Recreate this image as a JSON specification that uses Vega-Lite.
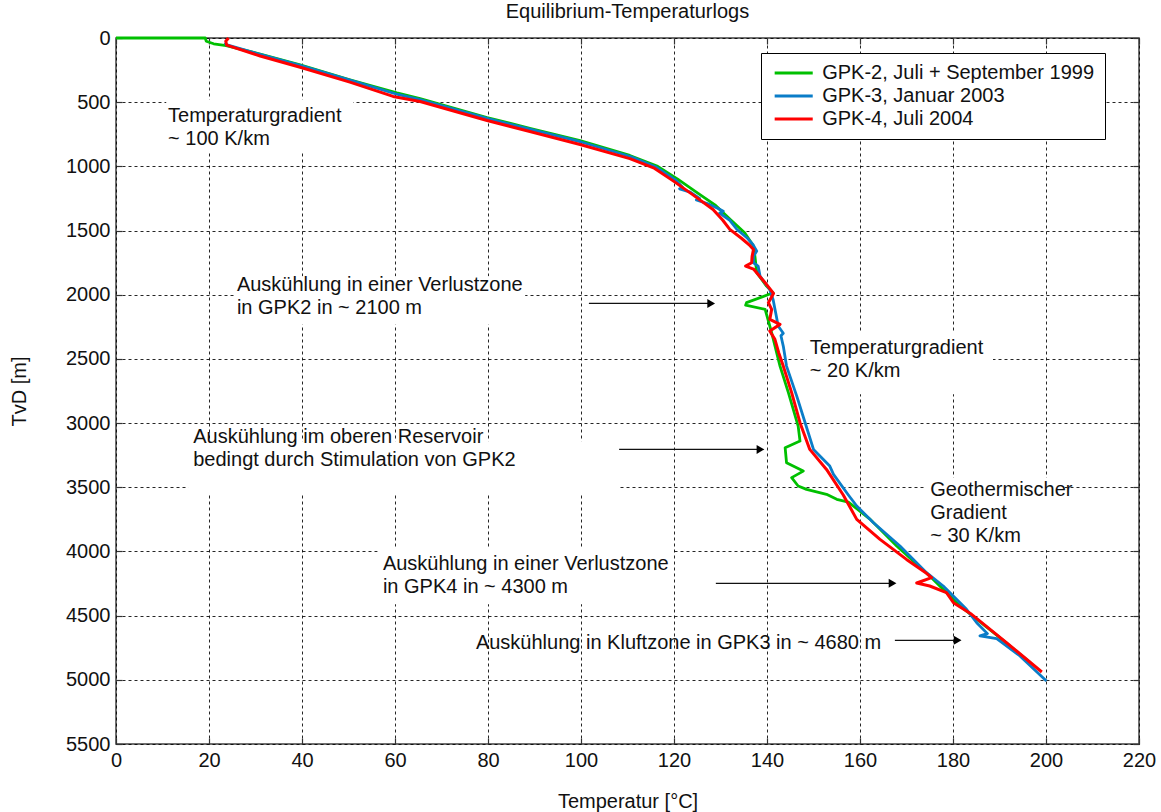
{
  "$schema": "https://vega.github.io/schema/vega-lite/v6.json",
  "width": 1023,
  "height": 706,
  "autosize": {"type": "none"},
  "padding": {"left": 116, "top": 38, "right": 22, "bottom": 68},
  "background": "white",
  "title": {"text": "Equilibrium-Temperaturlogs", "fontSize": 20, "fontWeight": "normal", "font": "Liberation Sans", "color": "#111111", "baseline": "alphabetic", "offset": 11, "dy": 21, "anchor": "middle", "frame": "group"},
  "config": {
    "view": {"stroke": "#404040", "strokeWidth": 1.5},
    "font": "Liberation Sans",
    "axis": {"labelFont": "Liberation Sans", "labelFontSize": 20, "labelColor": "#111111", "titleFont": "Liberation Sans", "titleFontSize": 20, "titleFontWeight": "normal", "titleColor": "#111111", "grid": true, "gridColor": "#000000", "gridDash": [3, 3], "gridWidth": 1, "gridOpacity": 0.85, "domain": false, "ticks": true, "tickSize": -6, "tickColor": "#333333", "tickWidth": 1.2, "labelPadding": 12}
  },
  "resolve": {"axis": {"x": "independent", "y": "independent"}},
  "datasets": {
    "boxes": [
      {"t0": 10.8, "t1": 51.0, "d0": 479, "d1": 892},
      {"t0": 25.6, "t1": 88.0, "d0": 1857, "d1": 2231},
      {"t0": 148.6, "t1": 188.6, "d0": 2293, "d1": 2776},
      {"t0": 15.5, "t1": 108.0, "d0": 3142, "d1": 3555},
      {"t0": 174.0, "t1": 204.0, "d0": 3423, "d1": 3991},
      {"t0": 56.3, "t1": 119.6, "d0": 3968, "d1": 4412}
    ],
    "logs": [
      {"well": "GPK-2, Juli + September 1999", "T": 0, "D": 0},
      {"well": "GPK-2, Juli + September 1999", "T": 19.2, "D": 0},
      {"well": "GPK-2, Juli + September 1999", "T": 19.4, "D": 25},
      {"well": "GPK-2, Juli + September 1999", "T": 21, "D": 45},
      {"well": "GPK-2, Juli + September 1999", "T": 23.7, "D": 60},
      {"well": "GPK-2, Juli + September 1999", "T": 31, "D": 125},
      {"well": "GPK-2, Juli + September 1999", "T": 39.6, "D": 210},
      {"well": "GPK-2, Juli + September 1999", "T": 50.3, "D": 325},
      {"well": "GPK-2, Juli + September 1999", "T": 60.4, "D": 428},
      {"well": "GPK-2, Juli + September 1999", "T": 65.4, "D": 472},
      {"well": "GPK-2, Juli + September 1999", "T": 79.8, "D": 620},
      {"well": "GPK-2, Juli + September 1999", "T": 89, "D": 703},
      {"well": "GPK-2, Juli + September 1999", "T": 99.8, "D": 800},
      {"well": "GPK-2, Juli + September 1999", "T": 110.5, "D": 915},
      {"well": "GPK-2, Juli + September 1999", "T": 116.5, "D": 1000},
      {"well": "GPK-2, Juli + September 1999", "T": 120.8, "D": 1100},
      {"well": "GPK-2, Juli + September 1999", "T": 124.8, "D": 1200},
      {"well": "GPK-2, Juli + September 1999", "T": 128.8, "D": 1300},
      {"well": "GPK-2, Juli + September 1999", "T": 132, "D": 1410},
      {"well": "GPK-2, Juli + September 1999", "T": 135.2, "D": 1517},
      {"well": "GPK-2, Juli + September 1999", "T": 137.1, "D": 1621},
      {"well": "GPK-2, Juli + September 1999", "T": 137.4, "D": 1699},
      {"well": "GPK-2, Juli + September 1999", "T": 137.8, "D": 1829},
      {"well": "GPK-2, Juli + September 1999", "T": 139.9, "D": 1933},
      {"well": "GPK-2, Juli + September 1999", "T": 141.3, "D": 1985},
      {"well": "GPK-2, Juli + September 1999", "T": 135.6, "D": 2062},
      {"well": "GPK-2, Juli + September 1999", "T": 135.4, "D": 2081},
      {"well": "GPK-2, Juli + September 1999", "T": 139.6, "D": 2114},
      {"well": "GPK-2, Juli + September 1999", "T": 141, "D": 2296},
      {"well": "GPK-2, Juli + September 1999", "T": 142.8, "D": 2556},
      {"well": "GPK-2, Juli + September 1999", "T": 144.6, "D": 2763},
      {"well": "GPK-2, Juli + September 1999", "T": 146.7, "D": 3023},
      {"well": "GPK-2, Juli + September 1999", "T": 147.1, "D": 3140},
      {"well": "GPK-2, Juli + September 1999", "T": 143.9, "D": 3192},
      {"well": "GPK-2, Juli + September 1999", "T": 144.2, "D": 3308},
      {"well": "GPK-2, Juli + September 1999", "T": 147.8, "D": 3374},
      {"well": "GPK-2, Juli + September 1999", "T": 145.3, "D": 3425},
      {"well": "GPK-2, Juli + September 1999", "T": 146.7, "D": 3490},
      {"well": "GPK-2, Juli + September 1999", "T": 148.5, "D": 3516},
      {"well": "GPK-2, Juli + September 1999", "T": 152.8, "D": 3555},
      {"well": "GPK-2, Juli + September 1999", "T": 155, "D": 3594},
      {"well": "GPK-2, Juli + September 1999", "T": 157.5, "D": 3615},
      {"well": "GPK-2, Juli + September 1999", "T": 162.2, "D": 3750},
      {"well": "GPK-2, Juli + September 1999", "T": 167.9, "D": 3958},
      {"well": "GPK-2, Juli + September 1999", "T": 175, "D": 4191},
      {"well": "GPK-2, Juli + September 1999", "T": 181.5, "D": 4425},
      {"well": "GPK-2, Juli + September 1999", "T": 189, "D": 4640},
      {"well": "GPK-2, Juli + September 1999", "T": 196.6, "D": 4866},
      {"well": "GPK-3, Januar 2003", "T": 23.4, "D": 37},
      {"well": "GPK-3, Januar 2003", "T": 23.7, "D": 51},
      {"well": "GPK-3, Januar 2003", "T": 31.2, "D": 130},
      {"well": "GPK-3, Januar 2003", "T": 39.8, "D": 215},
      {"well": "GPK-3, Januar 2003", "T": 50.5, "D": 330},
      {"well": "GPK-3, Januar 2003", "T": 60.6, "D": 440},
      {"well": "GPK-3, Januar 2003", "T": 65.6, "D": 482},
      {"well": "GPK-3, Januar 2003", "T": 80, "D": 628},
      {"well": "GPK-3, Januar 2003", "T": 89.2, "D": 712},
      {"well": "GPK-3, Januar 2003", "T": 100, "D": 810},
      {"well": "GPK-3, Januar 2003", "T": 110.8, "D": 925},
      {"well": "GPK-3, Januar 2003", "T": 116, "D": 1003},
      {"well": "GPK-3, Januar 2003", "T": 120.3, "D": 1105},
      {"well": "GPK-3, Januar 2003", "T": 121.8, "D": 1160},
      {"well": "GPK-3, Januar 2003", "T": 121.2, "D": 1175},
      {"well": "GPK-3, Januar 2003", "T": 123.5, "D": 1200},
      {"well": "GPK-3, Januar 2003", "T": 125.5, "D": 1250},
      {"well": "GPK-3, Januar 2003", "T": 124.8, "D": 1262},
      {"well": "GPK-3, Januar 2003", "T": 127.2, "D": 1290},
      {"well": "GPK-3, Januar 2003", "T": 129.6, "D": 1330},
      {"well": "GPK-3, Januar 2003", "T": 130.6, "D": 1349},
      {"well": "GPK-3, Januar 2003", "T": 129.8, "D": 1365},
      {"well": "GPK-3, Januar 2003", "T": 132, "D": 1420},
      {"well": "GPK-3, Januar 2003", "T": 133.5, "D": 1490},
      {"well": "GPK-3, Januar 2003", "T": 135.8, "D": 1560},
      {"well": "GPK-3, Januar 2003", "T": 137, "D": 1610},
      {"well": "GPK-3, Januar 2003", "T": 137.8, "D": 1660},
      {"well": "GPK-3, Januar 2003", "T": 137.1, "D": 1700},
      {"well": "GPK-3, Januar 2003", "T": 137.1, "D": 1751},
      {"well": "GPK-3, Januar 2003", "T": 138.1, "D": 1777},
      {"well": "GPK-3, Januar 2003", "T": 138.5, "D": 1855},
      {"well": "GPK-3, Januar 2003", "T": 140.6, "D": 1959},
      {"well": "GPK-3, Januar 2003", "T": 141.3, "D": 2036},
      {"well": "GPK-3, Januar 2003", "T": 142, "D": 2166},
      {"well": "GPK-3, Januar 2003", "T": 142.4, "D": 2244},
      {"well": "GPK-3, Januar 2003", "T": 143.5, "D": 2300},
      {"well": "GPK-3, Januar 2003", "T": 143, "D": 2320},
      {"well": "GPK-3, Januar 2003", "T": 143.5, "D": 2400},
      {"well": "GPK-3, Januar 2003", "T": 144.2, "D": 2556},
      {"well": "GPK-3, Januar 2003", "T": 146.4, "D": 2790},
      {"well": "GPK-3, Januar 2003", "T": 148.2, "D": 2997},
      {"well": "GPK-3, Januar 2003", "T": 150, "D": 3205},
      {"well": "GPK-3, Januar 2003", "T": 153.5, "D": 3335},
      {"well": "GPK-3, Januar 2003", "T": 154.3, "D": 3400},
      {"well": "GPK-3, Januar 2003", "T": 157.5, "D": 3560},
      {"well": "GPK-3, Januar 2003", "T": 159.3, "D": 3646},
      {"well": "GPK-3, Januar 2003", "T": 162.9, "D": 3776},
      {"well": "GPK-3, Januar 2003", "T": 168.6, "D": 3958},
      {"well": "GPK-3, Januar 2003", "T": 174.3, "D": 4165},
      {"well": "GPK-3, Januar 2003", "T": 177.9, "D": 4269},
      {"well": "GPK-3, Januar 2003", "T": 182.9, "D": 4451},
      {"well": "GPK-3, Januar 2003", "T": 185.1, "D": 4555},
      {"well": "GPK-3, Januar 2003", "T": 187.4, "D": 4640},
      {"well": "GPK-3, Januar 2003", "T": 185.8, "D": 4658},
      {"well": "GPK-3, Januar 2003", "T": 189.4, "D": 4679},
      {"well": "GPK-3, Januar 2003", "T": 194.4, "D": 4814},
      {"well": "GPK-3, Januar 2003", "T": 200.1, "D": 5009},
      {"well": "GPK-4, Juli 2004", "T": 24.2, "D": 0},
      {"well": "GPK-4, Juli 2004", "T": 23.6, "D": 25},
      {"well": "GPK-4, Juli 2004", "T": 23.8, "D": 55},
      {"well": "GPK-4, Juli 2004", "T": 31, "D": 140},
      {"well": "GPK-4, Juli 2004", "T": 39.6, "D": 228},
      {"well": "GPK-4, Juli 2004", "T": 50.3, "D": 344},
      {"well": "GPK-4, Juli 2004", "T": 59.6, "D": 455},
      {"well": "GPK-4, Juli 2004", "T": 65.4, "D": 495},
      {"well": "GPK-4, Juli 2004", "T": 79.8, "D": 643},
      {"well": "GPK-4, Juli 2004", "T": 89, "D": 728},
      {"well": "GPK-4, Juli 2004", "T": 99.8, "D": 830},
      {"well": "GPK-4, Juli 2004", "T": 110.5, "D": 940},
      {"well": "GPK-4, Juli 2004", "T": 115.6, "D": 1011},
      {"well": "GPK-4, Juli 2004", "T": 119.9, "D": 1115},
      {"well": "GPK-4, Juli 2004", "T": 124, "D": 1220},
      {"well": "GPK-4, Juli 2004", "T": 128.4, "D": 1336},
      {"well": "GPK-4, Juli 2004", "T": 130.5, "D": 1420},
      {"well": "GPK-4, Juli 2004", "T": 132, "D": 1491},
      {"well": "GPK-4, Juli 2004", "T": 134.5, "D": 1560},
      {"well": "GPK-4, Juli 2004", "T": 136.3, "D": 1616},
      {"well": "GPK-4, Juli 2004", "T": 137.1, "D": 1647},
      {"well": "GPK-4, Juli 2004", "T": 136.8, "D": 1700},
      {"well": "GPK-4, Juli 2004", "T": 136.7, "D": 1751},
      {"well": "GPK-4, Juli 2004", "T": 135.4, "D": 1777},
      {"well": "GPK-4, Juli 2004", "T": 137.1, "D": 1800},
      {"well": "GPK-4, Juli 2004", "T": 138.5, "D": 1860},
      {"well": "GPK-4, Juli 2004", "T": 139.6, "D": 1907},
      {"well": "GPK-4, Juli 2004", "T": 141.4, "D": 1990},
      {"well": "GPK-4, Juli 2004", "T": 140.3, "D": 2062},
      {"well": "GPK-4, Juli 2004", "T": 141, "D": 2114},
      {"well": "GPK-4, Juli 2004", "T": 140.6, "D": 2192},
      {"well": "GPK-4, Juli 2004", "T": 142.8, "D": 2231},
      {"well": "GPK-4, Juli 2004", "T": 140.6, "D": 2283},
      {"well": "GPK-4, Juli 2004", "T": 141.7, "D": 2348},
      {"well": "GPK-4, Juli 2004", "T": 142.5, "D": 2450},
      {"well": "GPK-4, Juli 2004", "T": 143.5, "D": 2556},
      {"well": "GPK-4, Juli 2004", "T": 145.3, "D": 2763},
      {"well": "GPK-4, Juli 2004", "T": 147.1, "D": 2997},
      {"well": "GPK-4, Juli 2004", "T": 149.2, "D": 3205},
      {"well": "GPK-4, Juli 2004", "T": 152.8, "D": 3361},
      {"well": "GPK-4, Juli 2004", "T": 156.4, "D": 3560},
      {"well": "GPK-4, Juli 2004", "T": 159.3, "D": 3750},
      {"well": "GPK-4, Juli 2004", "T": 164.3, "D": 3906},
      {"well": "GPK-4, Juli 2004", "T": 170, "D": 4062},
      {"well": "GPK-4, Juli 2004", "T": 174.3, "D": 4170},
      {"well": "GPK-4, Juli 2004", "T": 175.4, "D": 4204},
      {"well": "GPK-4, Juli 2004", "T": 172.2, "D": 4246},
      {"well": "GPK-4, Juli 2004", "T": 175, "D": 4269},
      {"well": "GPK-4, Juli 2004", "T": 178.6, "D": 4321},
      {"well": "GPK-4, Juli 2004", "T": 180.1, "D": 4399},
      {"well": "GPK-4, Juli 2004", "T": 184, "D": 4490},
      {"well": "GPK-4, Juli 2004", "T": 191.5, "D": 4710},
      {"well": "GPK-4, Juli 2004", "T": 199.1, "D": 4939}
    ],
    "arrows": [
      {"t0": 101.7, "t1": 128.0, "d": 2068},
      {"t0": 108.2, "t1": 138.6, "d": 3205},
      {"t0": 129.0, "t1": 167.0, "d": 4248},
      {"t0": 167.5, "t1": 181.0, "d": 4692}
    ],
    "notes": [
      {"t": 11.2, "d": 656, "label": "Temperaturgradient\n~ 100 K/km"},
      {"t": 26.0, "d": 1974, "label": "Auskühlung in einer Verlustzone\nin GPK2 in ~ 2100 m"},
      {"t": 149.2, "d": 2465, "label": "Temperaturgradient\n~ 20 K/km"},
      {"t": 16.6, "d": 3158, "label": "Auskühlung im oberen Reservoir\nbedingt durch Stimulation von GPK2"},
      {"t": 175.1, "d": 3571, "label": "Geothermischer\nGradient\n~ 30 K/km"},
      {"t": 57.4, "d": 4145, "label": "Auskühlung in einer Verlustzone\nin GPK4 in ~ 4300 m"},
      {"t": 77.4, "d": 4762, "label": "Auskühlung in Kluftzone in GPK3 in ~ 4680 m"}
    ]
  },
  "layer": [
    {
      "data": {"name": "boxes"},
      "mark": {"type": "rect", "fill": "white", "stroke": null},
      "encoding": {
        "x": {"field": "t0", "type": "quantitative", "scale": {"domain": [0, 220], "nice": false, "zero": false},
              "axis": {"values": [0, 20, 40, 60, 80, 100, 120, 140, 160, 180, 200, 220], "title": "Temperatur [°C]", "titleX": 511.5, "titleY": 63, "titleBaseline": "alphabetic", "titleAnchor": "middle", "labelFlush": false}},
        "x2": {"field": "t1"},
        "y": {"field": "d0", "type": "quantitative", "scale": {"domain": [0, 5500], "nice": false, "zero": false, "reverse": true},
              "axis": {"values": [0, 500, 1000, 1500, 2000, 2500, 3000, 3500, 4000, 4500, 5000, 5500], "format": "d", "title": "TvD [m]", "titleAngle": 270, "titleX": -91, "titleY": 353, "titleBaseline": "alphabetic", "titleAlign": "center", "labelFlush": false}},
        "y2": {"field": "d1"}
      }
    },
    {
      "data": {"name": "logs"},
      "transform": [{"filter": "datum.well === 'GPK-2, Juli + September 1999'"}],
      "mark": {"type": "line", "strokeWidth": 2.8, "strokeJoin": "round"},
      "encoding": {
        "x": {"field": "T", "type": "quantitative", "axis": null},
        "y": {"field": "D", "type": "quantitative", "axis": null},
        "order": {"value": null},
        "color": {"field": "well", "type": "nominal",
                  "scale": {"domain": ["GPK-2, Juli + September 1999", "GPK-3, Januar 2003", "GPK-4, Juli 2004"], "range": ["#00c000", "#0a7dc8", "#ff0000"]},
                  "legend": {"orient": "none", "legendX": 645, "legendY": 15, "title": null, "symbolType": "M-3,0L3,0", "symbolSize": 161, "symbolOffset": 12.7, "symbolStrokeWidth": 2.8, "labelFontSize": 20, "labelFont": "Liberation Sans", "labelColor": "#111111", "labelOffset": 18.5, "padding": 10, "strokeColor": "#000000", "fillColor": "white", "rowPadding": 3, "labelLimit": 400}}
      }
    },
    {
      "data": {"name": "logs"},
      "transform": [{"filter": "datum.well === 'GPK-3, Januar 2003'"}],
      "mark": {"type": "line", "strokeWidth": 2.8, "strokeJoin": "round"},
      "encoding": {
        "x": {"field": "T", "type": "quantitative", "axis": null},
        "y": {"field": "D", "type": "quantitative", "axis": null},
        "order": {"value": null},
        "color": {"field": "well", "type": "nominal"}
      }
    },
    {
      "data": {"name": "logs"},
      "transform": [{"filter": "datum.well === 'GPK-4, Juli 2004'"}],
      "mark": {"type": "line", "strokeWidth": 3, "strokeJoin": "round"},
      "encoding": {
        "x": {"field": "T", "type": "quantitative", "axis": null},
        "y": {"field": "D", "type": "quantitative", "axis": null},
        "order": {"value": null},
        "color": {"field": "well", "type": "nominal"}
      }
    },
    {
      "data": {"name": "arrows"},
      "mark": {"type": "rule", "color": "#111111", "strokeWidth": 1.3},
      "encoding": {
        "x": {"field": "t0", "type": "quantitative",
              "axis": {"orient": "top", "values": [0, 20, 40, 60, 80, 100, 120, 140, 160, 180, 200, 220], "labels": false, "grid": false, "title": null}},
        "x2": {"field": "t1"},
        "y": {"field": "d", "type": "quantitative",
              "axis": {"orient": "right", "values": [0, 500, 1000, 1500, 2000, 2500, 3000, 3500, 4000, 4500, 5000, 5500], "labels": false, "grid": false, "title": null}}
      }
    },
    {
      "data": {"name": "arrows"},
      "mark": {"type": "point", "shape": "triangle-right", "filled": true, "color": "#000000", "size": 80, "opacity": 1},
      "encoding": {
        "x": {"field": "t1", "type": "quantitative", "axis": null},
        "y": {"field": "d", "type": "quantitative", "axis": null}
      }
    },
    {
      "data": {"name": "notes"},
      "mark": {"type": "text", "align": "left", "baseline": "alphabetic", "lineBreak": "\n", "lineHeight": 23, "fontSize": 20, "font": "Liberation Sans", "color": "#111111"},
      "encoding": {
        "x": {"field": "t", "type": "quantitative", "axis": null},
        "y": {"field": "d", "type": "quantitative", "axis": null},
        "text": {"field": "label"}
      }
    }
  ]
}
